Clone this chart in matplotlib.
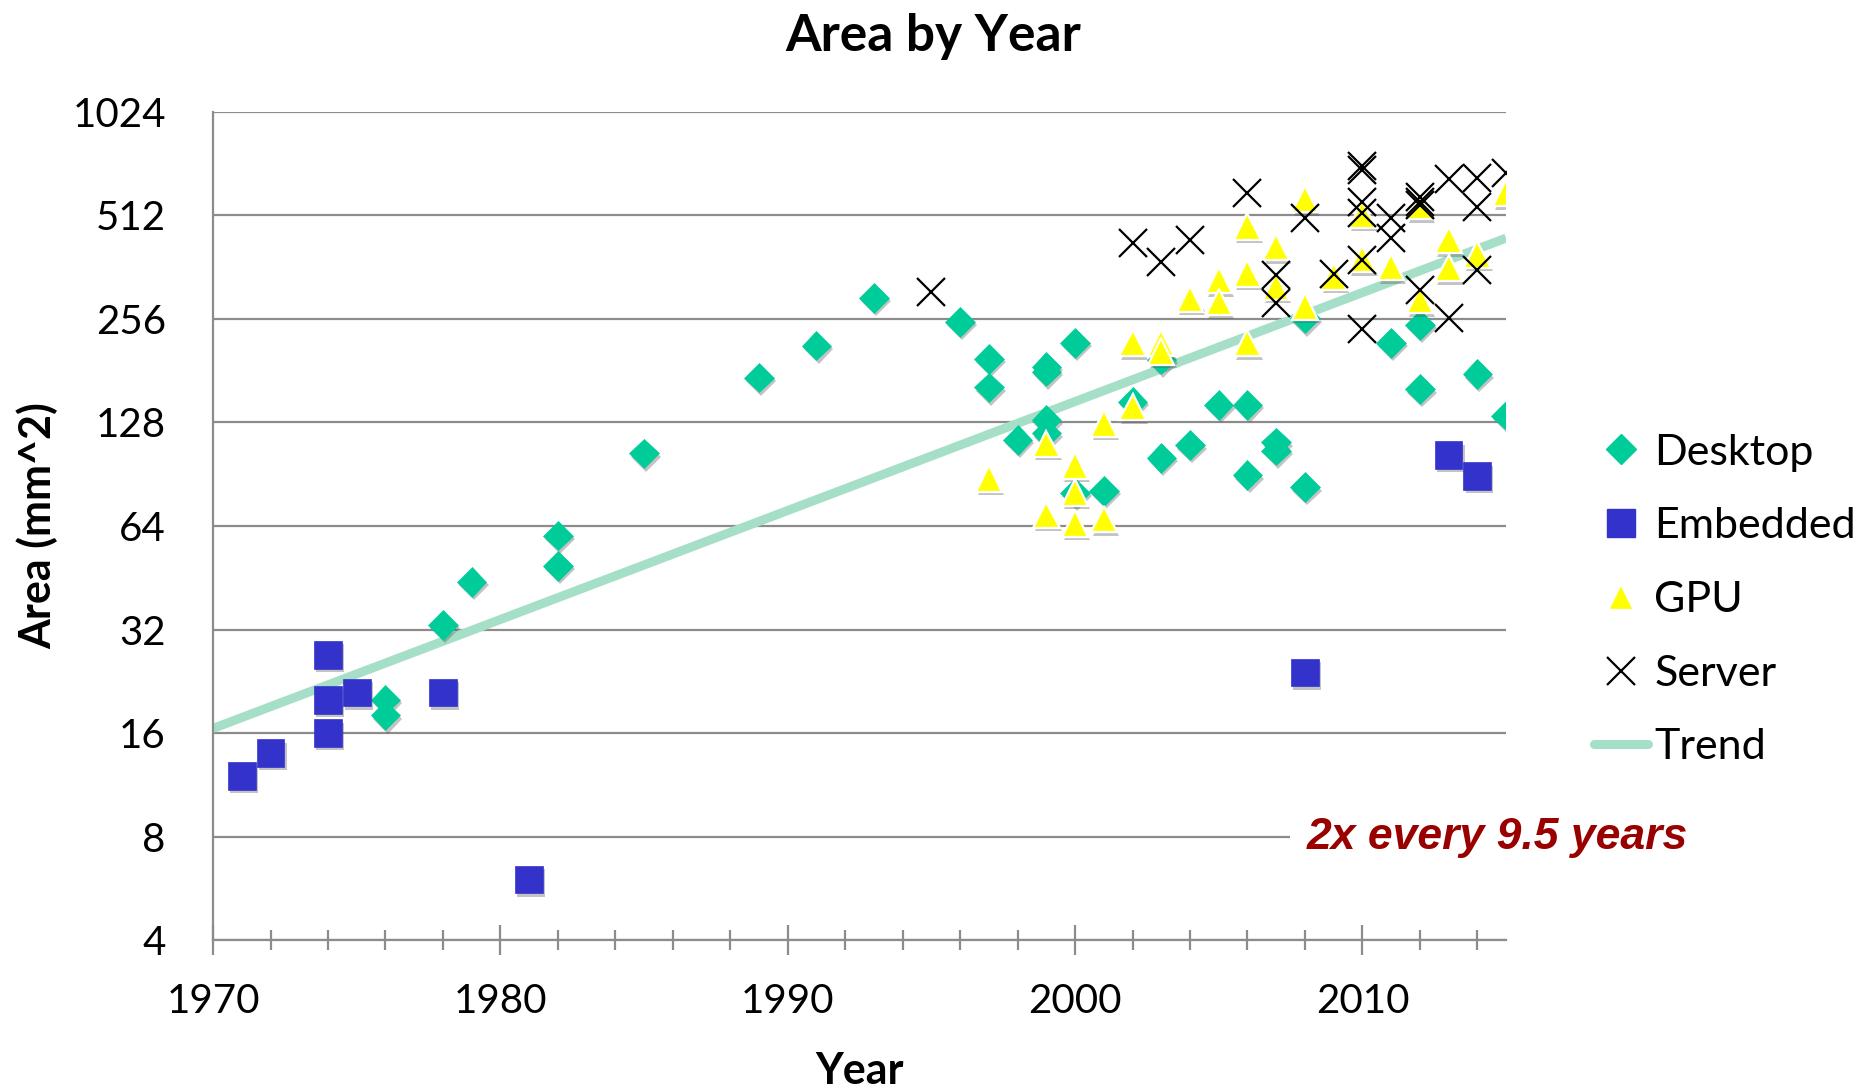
import matplotlib
matplotlib.use("Agg")
import numpy as np
import matplotlib.pyplot as plt
import matplotlib.patheffects as pe
from matplotlib.lines import Line2D
from matplotlib.ticker import FixedLocator, NullFormatter

# ---- data -------------------------------------------------------------
desktop_year = [1976, 1976, 1978, 1979, 1982, 1982, 1985, 1989, 1991, 1993,
                1996, 1997, 1997, 1998, 1999, 1999, 1999, 1999, 2000, 2000,
                2001, 2002, 2003, 2003, 2004, 2005, 2006, 2006, 2007, 2007,
                2008, 2008, 2011, 2012, 2012, 2014, 2015]
desktop_area = [20, 18, 33, 44, 60, 49, 104, 173, 214, 295,
                251, 196, 162, 114, 180, 186, 130, 119, 218, 80,
                81, 147, 195, 101, 110, 144, 144, 90, 112, 106,
                257, 83, 218, 246, 160, 177, 134]

embedded_year = [1971, 1972, 1974, 1974, 1974, 1975, 1978, 1981, 2008, 2013, 2014]
embedded_area = [12, 14, 27, 20, 16, 21, 21, 6, 24, 103, 89.5]

gpu_year = [1997, 1999, 1999, 2000, 2000, 2000, 2001, 2001, 2002, 2002,
            2003, 2003, 2004, 2004, 2005, 2005, 2006, 2006, 2006, 2007,
            2007, 2008, 2008, 2009, 2010, 2010, 2011, 2012, 2012, 2012,
            2013, 2013, 2014, 2015]
gpu_area = [88, 111, 69, 96, 80, 65, 127, 67, 218, 142,
            218, 206, 300, 293, 332, 287, 475, 347, 218, 415,
            318, 572, 278, 340, 516, 382, 362, 560, 545, 291,
            434, 360, 394, 594]

server_year = [1995, 2002, 2003, 2004, 2006, 2007, 2007, 2008, 2009,
               2010, 2010, 2010, 2010, 2010, 2010, 2011, 2011,
               2012, 2012, 2012, 2012, 2013, 2013, 2014, 2014, 2014, 2015]
server_area = [307, 425, 376, 434, 595, 344, 284, 503, 346,
               715, 695, 560, 520, 380, 240, 505, 440,
               578, 562, 548, 310, 655, 257, 660, 543, 355, 680]

# exponential trend: doubles every 9.5 years
trend_start_year = 1970
trend_end_year = 2015
trend_start_area = 16.5
doubling_years = 9.5

y_ticks = [4, 8, 16, 32, 64, 128, 256, 512, 1024]
x_ticks = [1970, 1980, 1990, 2000, 2010]

# ---- styling ----------------------------------------------------------
plt.rcParams['font.family'] = ['Lato', 'DejaVu Sans']

c_desktop = '#00CC99'
c_embedded = '#3333CC'
c_gpu = '#FFFF00'
c_trend = '#A6DFC7'
c_grid = '#8C8C8C'

shadow = [pe.SimplePatchShadow(offset=(1.5, -2.5), shadow_rgbFace='#555555', alpha=0.35),
          pe.Normal()]

fig = plt.figure(figsize=(18.66, 10.87), dpi=100)
ax = fig.add_axes([0.1142, 0.1352, 0.6929, 0.7618])

ax.set_yscale('log', base=2)
ax.set_xlim(1970, 2015)
ax.set_ylim(4, 1024)

# trend line
tx_fine = np.linspace(trend_start_year, trend_end_year, 50)
ty = trend_start_area * 2 ** ((tx_fine - trend_start_year) / doubling_years)
ax.plot(tx_fine, ty, color=c_trend, lw=6.5, solid_capstyle='butt', zorder=2)

ax.plot(desktop_year, desktop_area, ls='none', marker='D', ms=15,
        mfc=c_desktop, mec=c_desktop, mew=0.5, zorder=3, path_effects=shadow)
ax.plot(embedded_year, embedded_area, ls='none', marker='s', ms=20,
        mfc=c_embedded, mec=c_embedded, mew=0.5, zorder=4, path_effects=shadow)
ax.plot(gpu_year, gpu_area, ls='none', marker='^', ms=19,
        mfc=c_gpu, mec='white', mew=1.6, zorder=5, path_effects=shadow)
ax.plot(server_year, server_area, ls='none', marker='x', ms=20,
        mec='black', mew=1.6, zorder=6)

# axes decoration
for s in ('top', 'right'):
    ax.spines[s].set_visible(False)
for s in ('left', 'bottom'):
    ax.spines[s].set_color(c_grid)
    ax.spines[s].set_linewidth(1.6)

ax.yaxis.set_major_locator(FixedLocator(y_ticks))
ax.yaxis.set_minor_locator(FixedLocator([]))
ax.set_yticklabels([str(v) for v in y_ticks])
ax.tick_params(axis='y', which='both', length=0, pad=34, labelsize=29)
ax.yaxis.grid(True, color=c_grid, lw=1.6)
ax.set_axisbelow(True)

ax.xaxis.set_major_locator(FixedLocator(x_ticks))
ax.xaxis.set_minor_locator(FixedLocator(list(range(1972, 2015, 2))))
ax.xaxis.set_minor_formatter(NullFormatter())
ax.set_xticklabels([str(v) for v in x_ticks])
ax.tick_params(axis='x', which='major', direction='inout', length=22, width=1.6,
               color=c_grid, labelsize=29, pad=20)
ax.tick_params(axis='x', which='minor', direction='inout', length=15, width=1.6,
               color=c_grid)

ax.set_xlabel('Year', fontsize=31, fontweight='bold', labelpad=22)
ax.set_ylabel('Area (mm^2)', fontsize=31, fontweight='bold', labelpad=10)

fig.text(0.5, 0.966, 'Area by Year', ha='center', va='center',
         fontsize=37, fontweight='bold')

ax.text(2014.7, 7.95, '2x every 9.5 years', ha='center', va='center',
        fontsize=32, fontweight='bold', style='italic', color='#990000',
        family=['Liberation Sans Narrow', 'Liberation Sans'],
        bbox=dict(facecolor='white', edgecolor='none', pad=12),
        clip_on=False, zorder=7)

handles = [
    Line2D([], [], ls='none', marker='D', ms=15, mfc=c_desktop, mec=c_desktop),
    Line2D([], [], ls='none', marker='s', ms=20, mfc=c_embedded, mec=c_embedded),
    Line2D([], [], ls='none', marker='^', ms=19, mfc=c_gpu, mec='white', mew=1.6),
    Line2D([], [], ls='none', marker='x', ms=20, mec='black', mew=1.6),
    Line2D([], [], color=c_trend, lw=6.5, solid_capstyle='round'),
]
labels = ['Desktop', 'Embedded', 'GPU', 'Server', 'Trend']
fig.legend(handles, labels, loc='center left', bbox_to_anchor=(0.845, 0.448),
           frameon=False, fontsize=31, handlelength=1.26, handletextpad=0.14,
           labelspacing=0.83, borderaxespad=0)

fig.savefig('out.png', dpi=100, facecolor='white')
